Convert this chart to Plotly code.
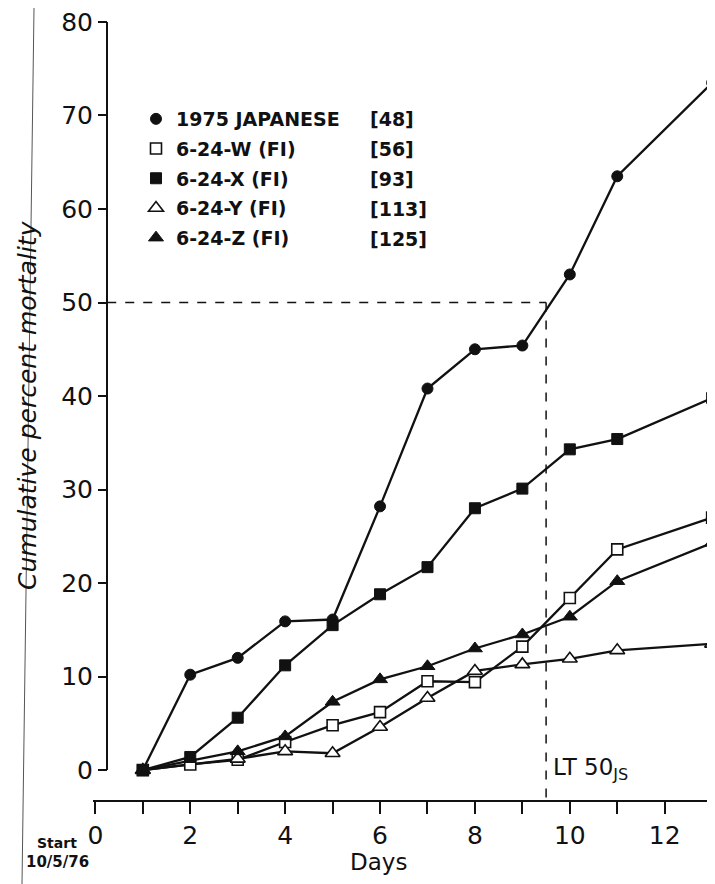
import plotly.graph_objects as go

# ---------------- data ----------------
days_all = [1, 2, 3, 4, 5, 6, 7, 8, 9, 10, 11, 13]
days_tri = [1, 3, 4, 5, 6, 7, 8, 9, 10, 11, 13]

japanese_1975 = [0, 10.2, 12.0, 15.9, 16.1, 28.2, 40.8, 45.0, 45.4, 53.0, 63.5, 73.5]
w_624 = [0, 0.6, 1.1, 3.0, 4.8, 6.2, 9.5, 9.4, 13.2, 18.4, 23.6, 27.0]
x_624 = [0, 1.4, 5.6, 11.2, 15.5, 18.8, 21.7, 28.0, 30.1, 34.3, 35.4, 39.8]
y_624 = [0, 1.2, 2.0, 1.8, 4.6, 7.7, 10.6, 11.3, 11.9, 12.8, 13.5]
z_624 = [0, 2.0, 3.6, 7.3, 9.7, 11.1, 13.0, 14.5, 16.4, 20.2, 24.3]

series_names = ["1975 JAPANESE", "6-24-W (FI)", "6-24-X (FI)", "6-24-Y (FI)", "6-24-Z (FI)"]
series_counts = ["[48]", "[56]", "[93]", "[113]", "[125]"]
lt50_day = 9.5
lt50_level = 50

y_ticks = [0, 10, 20, 30, 40, 50, 60, 70, 80]
x_major_ticks = [0, 2, 4, 6, 8, 10, 12]

# ---------------- layout geometry ----------------
OFF = 8                      # page body margin
W, H = 715 - OFF, 884 - OFF
ML, MR, MT, MB = 85, 0, 5, 84
PW, PH = W - ML - MR, H - MT - MB
XR = [-0.05, 13.06]
YR = [-3.2, 80.96]


def px(xs):
    """screen x pixel -> paper fraction"""
    return (xs - OFF - ML) / PW


def py(ys):
    """screen y pixel -> paper fraction"""
    return (H - MB - (ys - OFF)) / PH


FONT = "DejaVu Sans"
BLACK = "#111111"

fig = go.Figure()

styles = [
    dict(symbol="circle", size=11, color=BLACK, line=dict(color=BLACK, width=1)),
    dict(symbol="square", size=11, color="white", line=dict(color=BLACK, width=1.6)),
    dict(symbol="square", size=11, color=BLACK, line=dict(color=BLACK, width=1)),
    dict(symbol="triangle-up", size=13, color="white", line=dict(color=BLACK, width=1.6)),
    dict(symbol="triangle-up", size=13, color=BLACK, line=dict(color=BLACK, width=1)),
]
xs = [days_all, days_all, days_all, days_tri, days_tri]
ys = [japanese_1975, w_624, x_624, y_624, z_624]

# connecting lines first (no legend)
for i in range(5):
    fig.add_trace(go.Scatter(
        x=xs[i], y=ys[i], mode="lines", showlegend=False, hoverinfo="skip",
        line=dict(color=BLACK, width=2.3), cliponaxis=False,
    ))
# markers on top (legend entries)
for i in range(5):
    fig.add_trace(go.Scatter(
        x=xs[i], y=ys[i], mode="markers", name=series_names[i],
        legendgroup=f"g{i}", marker=styles[i], cliponaxis=False,
    ))

yaxis_pos = px(107)

shapes = [
    dict(type="line", xref="paper", yref="y", x0=yaxis_pos, x1=yaxis_pos,
         y0=y_ticks[0], y1=y_ticks[-1], line=dict(color=BLACK, width=2)),
    dict(type="line", xref="x", yref="y", x0=0.25, x1=lt50_day,
         y0=lt50_level, y1=lt50_level, line=dict(color=BLACK, width=1.5, dash="dash")),
    dict(type="line", xref="x", yref="y", x0=lt50_day, x1=lt50_day,
         y0=lt50_level, y1=YR[0], line=dict(color=BLACK, width=1.5, dash="dash")),
    dict(type="line", xref="paper", yref="paper", x0=px(34), x1=px(22),
         y0=py(8), y1=py(884), line=dict(color="#555555", width=1)),
]

annotations = []
row_y = [119, 149, 179, 209, 239]
for i, c in enumerate(series_counts):
    annotations.append(dict(xref="paper", yref="paper", x=px(368), y=py(row_y[i]),
                            text=f"<b>{c}</b>", showarrow=False, xanchor="left", yanchor="middle",
                            font=dict(family=FONT, size=19, color=BLACK)))

annotations += [
    dict(xref="paper", yref="paper", x=px(551), y=py(769), text="LT 50<sub>JS</sub>",
         showarrow=False, xanchor="left", yanchor="middle",
         font=dict(family=FONT, size=23, color=BLACK)),
    dict(xref="paper", yref="paper", x=px(378), y=py(862), text="Days",
         showarrow=False, xanchor="center", yanchor="middle",
         font=dict(family=FONT, size=23, color=BLACK)),
    dict(xref="paper", yref="paper", x=px(57), y=py(843), text="<b>Start</b>",
         showarrow=False, xanchor="center", yanchor="middle",
         font=dict(family=FONT, size=14, color=BLACK)),
    dict(xref="paper", yref="paper", x=px(57), y=py(862), text="<b>10/5/76</b>",
         showarrow=False, xanchor="center", yanchor="middle",
         font=dict(family=FONT, size=15, color=BLACK)),
    dict(xref="paper", yref="paper", x=px(27), y=py(405), text="Cumulative percent mortality",
         showarrow=False, xanchor="center", yanchor="middle", textangle=-90,
         font=dict(family=FONT, size=25, color=BLACK, style="italic")),
]

fig.update_layout(
    width=W, height=H,
    margin=dict(l=ML, r=MR, t=MT, b=MB, pad=0),
    paper_bgcolor="white", plot_bgcolor="white",
    showlegend=True,
    legend=dict(x=px(136), y=py(100), xanchor="left", yanchor="top",
                bgcolor="rgba(0,0,0,0)", borderwidth=0,
                font=dict(family=FONT, size=19, color=BLACK, weight="bold"),
                tracegroupgap=2, itemsizing="trace"),
    shapes=shapes,
    annotations=annotations,
    xaxis=dict(range=XR, showgrid=False, zeroline=False, showline=True,
               linecolor=BLACK, linewidth=2, automargin=False,
               tickmode="array", tickvals=x_major_ticks, ticklabeloverflow="allow",
               ticks="outside", ticklen=12, tickwidth=2, tickcolor=BLACK,
               minor=dict(dtick=1, tick0=0, ticks="outside", ticklen=12, tickwidth=2,
                          tickcolor=BLACK, showgrid=False),
               tickfont=dict(family=FONT, size=25, color=BLACK)),
    yaxis=dict(range=YR, showgrid=False, zeroline=False, showline=False,
               anchor="free", position=yaxis_pos, automargin=False,
               tickmode="array", tickvals=y_ticks, ticklabeloverflow="allow",
               ticks="outside", ticklen=9, tickwidth=2, tickcolor=BLACK,
               tickfont=dict(family=FONT, size=25, color=BLACK)),
)

fig.write_html("out.html")
